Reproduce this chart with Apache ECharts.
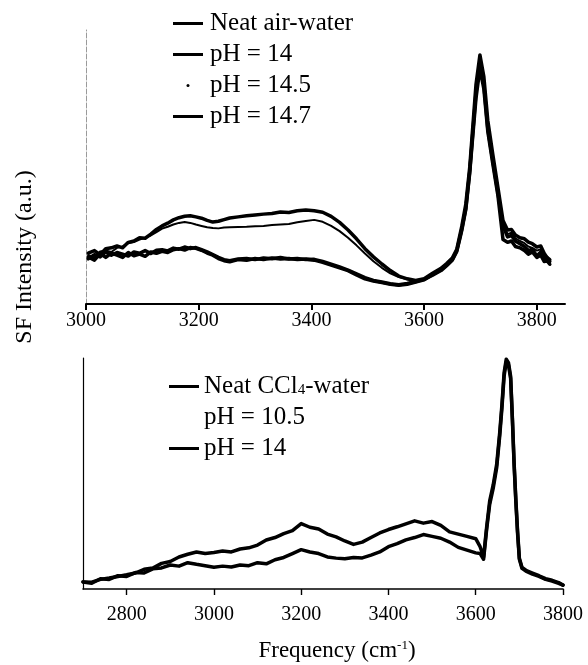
<!DOCTYPE html>
<html><head><meta charset="utf-8">
<script src="https://cdn.jsdelivr.net/npm/echarts@6/dist/echarts.min.js"></script>
<style>html,body{margin:0;padding:0;background:#fff}#c{width:588px;height:665px}</style>
</head><body><div id="c"></div>
<script>
// ---- Top panel: air-water (frequency cm^-1, SF intensity a.u.) ----
const topFreq = [3004,3015,3025,3035,3045,3055,3065,3075,3085,3095,
  3105,3115,3125,3135,3145,3155,3165,3175,3185,3195,
  3205,3215,3225,3235,3245,3255,3270,3285,3300,3315,
  3330,3345,3360,3375,3390,3405,3420,3435,3450,3465,
  3480,3495,3510,3525,3540,3555,3570,3585,3600,3615,
  3630,3640,3650,3658,3667,3674,3681,3685,3692,3699,
  3706,3713,3722,3731,3740,3748,3755,3762,3770,3778,
  3785,3792,3800,3807,3813,3818,3823];
const airNeat = [1.72,1.60,1.84,1.70,1.86,1.78,1.70,1.88,1.76,1.82,
  1.74,1.90,1.85,1.92,1.88,1.98,2.02,1.97,2.06,2.03,
  1.96,1.86,1.78,1.66,1.58,1.54,1.62,1.60,1.66,1.62,
  1.68,1.64,1.66,1.62,1.64,1.60,1.52,1.42,1.32,1.22,
  1.06,0.92,0.84,0.78,0.72,0.68,0.72,0.80,0.88,1.08,
  1.25,1.42,1.62,1.95,2.75,3.50,4.85,5.90,7.70,8.80,
  8.00,6.40,5.20,4.05,2.85,2.45,2.50,2.30,2.20,2.10,
  1.95,2.00,1.75,1.90,1.62,1.70,1.55];
const airPH14 = [1.65,1.80,1.72,1.90,1.78,1.88,1.82,1.75,1.90,1.85,
  1.95,1.84,1.96,1.98,1.94,2.04,2.00,2.08,2.02,2.06,
  1.98,1.90,1.80,1.70,1.62,1.58,1.64,1.66,1.62,1.68,
  1.65,1.70,1.64,1.66,1.62,1.63,1.55,1.45,1.35,1.24,
  1.10,0.96,0.86,0.80,0.74,0.70,0.75,0.82,0.90,1.05,
  1.22,1.40,1.60,1.92,2.70,3.45,4.80,5.80,7.50,8.60,
  7.85,6.30,5.10,3.95,2.35,2.25,2.30,2.10,2.05,1.95,
  1.82,1.90,1.70,1.78,1.55,1.58,1.45];
const airPH145 = [1.79,1.70,1.92,1.95,1.90,2.05,2.10,2.22,2.26,2.35,
  2.42,2.50,2.62,2.75,2.82,2.90,2.96,2.99,2.96,2.90,
  2.85,2.80,2.77,2.76,2.79,2.80,2.81,2.82,2.84,2.85,
  2.88,2.90,2.92,2.98,3.03,3.07,3.00,2.85,2.66,2.42,
  2.14,1.84,1.56,1.32,1.12,0.98,0.90,0.84,0.90,1.10,
  1.28,1.45,1.65,1.98,2.80,3.58,4.92,6.00,7.85,8.95,
  8.15,6.55,5.35,4.15,2.95,2.55,2.60,2.40,2.30,2.22,
  2.10,2.05,1.95,2.00,1.75,1.66,1.58];
const airPH147 = [1.86,1.95,1.80,2.02,2.05,2.12,2.05,2.25,2.30,2.42,
  2.40,2.55,2.72,2.85,2.95,3.07,3.15,3.20,3.22,3.18,
  3.13,3.05,2.99,3.02,3.08,3.14,3.18,3.22,3.25,3.28,
  3.30,3.36,3.34,3.40,3.43,3.40,3.35,3.20,2.98,2.70,
  2.38,2.02,1.72,1.46,1.22,1.02,0.92,0.86,0.92,1.12,
  1.30,1.48,1.68,2.00,2.85,3.65,5.00,6.10,8.00,9.09,
  8.30,6.70,5.45,4.25,3.05,2.70,2.72,2.52,2.42,2.38,
  2.26,2.20,2.08,2.12,1.85,1.70,1.62];
const topTicks = [3000,3200,3400,3600,3800];

// ---- Bottom panel: CCl4-water ----
const botFreq = [2700,2720,2740,2760,2780,2800,2820,2840,2860,2880,
  2900,2920,2940,2960,2980,3000,3020,3040,3060,3080,
  3100,3120,3140,3160,3180,3200,3220,3240,3260,3280,
  3300,3320,3340,3360,3380,3400,3420,3440,3460,3480,
  3500,3520,3540,3560,3580,3600,
  3610,3618,3625,3632,3640,3648,3655,3660,3665,3670,
  3675,3680,3684,3688,3692,3696,3700,3706,3715,3730,
  3745,3760,3775,3790,3800];
const cclNeat = [0.31,0.25,0.45,0.42,0.58,0.55,0.72,0.70,0.88,0.92,
  1.05,1.00,1.15,1.08,1.02,0.95,1.00,0.96,1.05,1.02,
  1.15,1.10,1.28,1.38,1.55,1.72,1.62,1.55,1.40,1.35,
  1.32,1.38,1.36,1.48,1.62,1.85,1.98,2.15,2.25,2.38,
  2.30,2.22,2.05,1.82,1.70,1.58,
  1.55,1.30,2.60,3.70,4.40,5.30,6.70,7.90,9.30,9.95,
  9.80,9.20,7.40,5.40,3.80,2.40,1.30,0.90,0.78,0.65,
  0.55,0.42,0.35,0.25,0.17];
const cclPH14 = [0.31,0.30,0.42,0.48,0.55,0.62,0.70,0.86,0.92,1.12,
  1.20,1.40,1.52,1.62,1.55,1.60,1.66,1.62,1.75,1.80,
  1.92,2.14,2.25,2.42,2.55,2.86,2.70,2.62,2.40,2.28,
  2.10,1.95,2.05,2.25,2.45,2.60,2.72,2.85,2.98,2.88,
  2.95,2.78,2.50,2.40,2.30,2.20,
  1.85,1.40,2.70,3.85,4.55,5.45,6.85,8.05,9.45,10.05,
  9.90,9.30,7.50,5.50,3.90,2.50,1.35,0.95,0.82,0.70,
  0.58,0.45,0.38,0.28,0.17];
const cclPH105 = []; // trace not visible in the figure
const botTicks = [2800,3000,3200,3400,3600,3800];

const SERIF = '"Liberation Serif","Times New Roman",serif';
const zip = (x, y) => x.map((v, i) => [v, y[i]]);

const chart = echarts.init(document.getElementById('c'), null, {renderer: 'canvas'});

function line(name, xi, data, width) {
  return {
    name, type: 'line', xAxisIndex: xi, yAxisIndex: xi, data,
    showSymbol: false, symbol: 'none', smooth: false,
    itemStyle: {color: '#000'},
    lineStyle: {color: '#000', width, join: 'round', cap: 'round'},
    emphasis: {disabled: true}
  };
}

const xCommon = (min, max, ticks) => ({
  type: 'value', min, max,
  axisLine: {lineStyle: {color: '#000', width: 2}},
  axisTick: {customValues: ticks, length: 6, inside: false, lineStyle: {color: '#000', width: 2}},
  axisLabel: {customValues: ticks, color: '#000', fontFamily: SERIF, fontSize: 20,
              formatter: v => String(v)},
  splitLine: {show: false}
});

const x0 = xCommon(3000, 3850, topTicks);
x0.gridIndex = 0; x0.axisLabel.margin = 7;
const x1 = xCommon(2700, 3800, botTicks);
x1.gridIndex = 1; x1.axisLabel.margin = 16;
x1.axisLine.lineStyle.width = 1.6;
x1.axisTick.lineStyle.width = 1.4;
x1.name = '{n|Frequency (cm}{s|-1}{n|)}';
x1.nameLocation = 'middle';
x1.nameGap = 50;
x1.nameTextStyle = {
  color: '#000', fontFamily: SERIF, fontSize: 23, padding: [0, 0, 0, 28],
  rich: {
    n: {fontFamily: SERIF, fontSize: 23, color: '#000', lineHeight: 24},
    s: {fontFamily: SERIF, fontSize: 13, color: '#000', lineHeight: 10, verticalAlign: 'top'}
  }
};

const legendText = {
  color: '#000', fontFamily: SERIF, fontSize: 25, lineHeight: 23,
  rich: {
    t: {fontFamily: SERIF, fontSize: 25, color: '#000', lineHeight: 23},
    s: {fontFamily: SERIF, fontSize: 15, color: '#000', lineHeight: 9, verticalAlign: 'bottom'}
  }
};

chart.setOption({
  animation: false,
  backgroundColor: '#fff',
  grid: [
    {left: 86, right: 23, top: 30, height: 274},
    {left: 83, right: 25, top: 358, height: 231}
  ],
  xAxis: [x0, x1],
  yAxis: [
    {gridIndex: 0, type: 'value', min: 0, max: 10,
     axisLine: {show: true, lineStyle: {color: '#9a9a9a', width: 1, type: [5, 2]}},
     axisTick: {show: false}, axisLabel: {show: false}, splitLine: {show: false}},
    {gridIndex: 1, type: 'value', min: 0, max: 10.1,
     axisLine: {show: true, lineStyle: {color: '#000', width: 1.2}},
     axisTick: {show: false}, axisLabel: {show: false}, splitLine: {show: false}}
  ],
  legend: [
    {
      data: [
        {name: 'Neat air-water', icon: 'rect'},
        {name: 'pH = 14', icon: 'rect'},
        {name: 'pH = 14.5', icon: 'circle'},
        {name: 'pH = 14.7', icon: 'rect'}
      ],
      orient: 'vertical', left: 168, top: 6, itemWidth: 30, itemHeight: 3, itemGap: 6,
      selectedMode: false,
      textStyle: Object.assign({}, legendText, {padding: [0, 0, 0, 2]})
    },
    {
      data: [
        {name: 'Neat CCl4-water', icon: 'rect'},
        {name: 'pH = 10.5', icon: 'rect', itemStyle: {opacity: 0}},
        {name: 'pH = 14 ', icon: 'rect'}
      ],
      orient: 'vertical', left: 164, top: 369, itemWidth: 30, itemHeight: 3, itemGap: 6,
      selectedMode: false,
      formatter: n => n === 'Neat CCl4-water' ? '{t|Neat CCl}{s|4}{t|-water}' : '{t|' + n.trim() + '}',
      textStyle: legendText
    }
  ],
  graphic: [
    {type: 'text', x: 25, y: 257, rotation: Math.PI / 2,
     style: {text: 'SF Intensity (a.u.)', fontFamily: SERIF, fontSize: 24, fill: '#000',
             align: 'center', verticalAlign: 'middle'}}
  ],
  series: [
    line('Neat air-water', 0, zip(topFreq, airNeat), 3.5),
    line('pH = 14', 0, zip(topFreq, airPH14), 3.5),
    line('pH = 14.5', 0, zip(topFreq, airPH145), 2),
    line('pH = 14.7', 0, zip(topFreq, airPH147), 3.5),
    line('Neat CCl4-water', 1, zip(botFreq, cclNeat), 3.5),
    line('pH = 10.5', 1, cclPH105, 2),
    line('pH = 14 ', 1, zip(botFreq, cclPH14), 3.5)
  ]
});
</script>
</body></html>
